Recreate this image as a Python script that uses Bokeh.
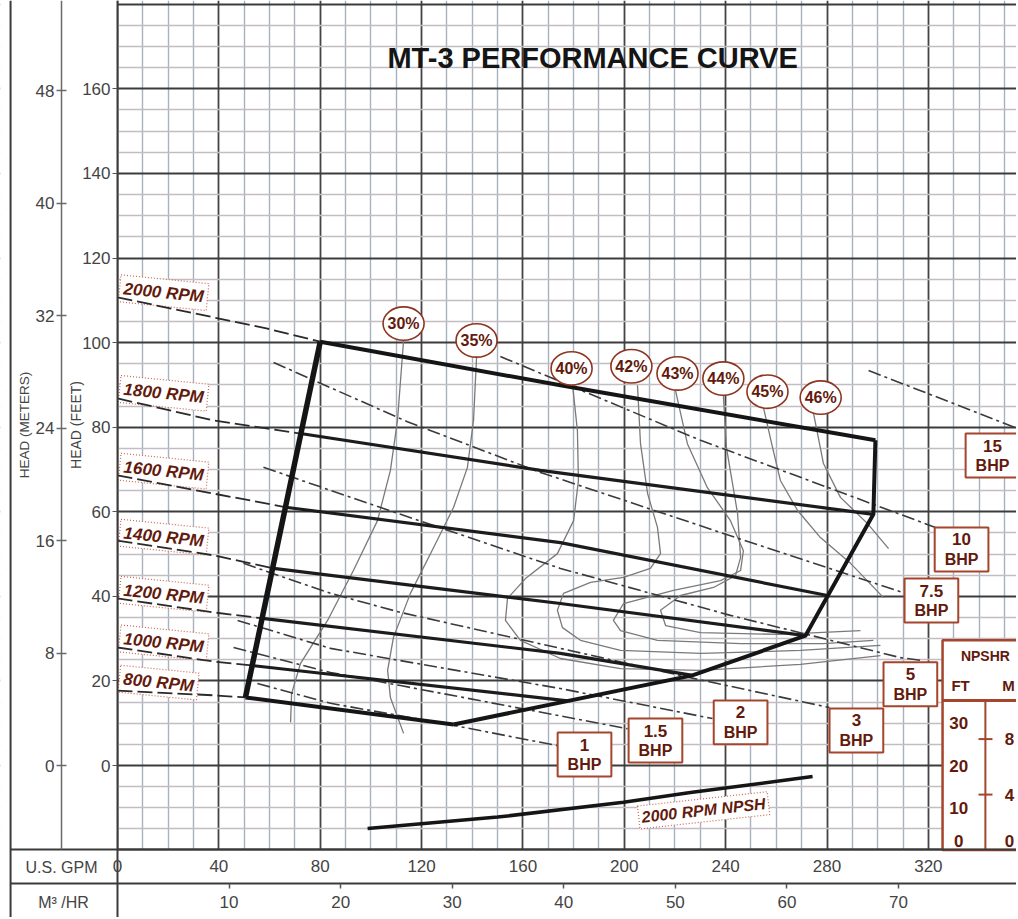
from bokeh.plotting import figure
from bokeh.models import Range1d, LinearAxis, FixedTicker
from bokeh.core.properties import value
from bokeh.embed import file_html
from bokeh.resources import INLINE

# ---------------- axis ticks ----------------
gpm_ticks = [0, 40, 80, 120, 160, 200, 240, 280, 320]
m3hr_ticks = [10, 20, 30, 40, 50, 60, 70]
feet_ticks = [0, 20, 40, 60, 80, 100, 120, 140, 160]
meter_ticks = [0, 8, 16, 24, 32, 40, 48]
npsh_ft_ticks = ["30", "20", "10", "0"]
npsh_ft_pos = [30, 20, 10, 2.2]
npsh_m_ticks = ["8", "4", "0"]
npsh_m_pos = [8, 4, 0.67]
npsh_m_marks = [8, 4]

GPM_PER_M3HR = 4.40287
FT_PER_M_DRAWN = 3.325   # metre scale as printed on the sheet

# ---------------- RPM curves (GPM, ft) ----------------
rpm_labels = ["2000 RPM", "1800 RPM", "1600 RPM", "1400 RPM", "1200 RPM", "1000 RPM", "800 RPM"]
rpm_label_gpm = [18.2, 18.2, 18.2, 18.2, 18.2, 18.2, 16.2]
rpm_label_ft = [111.8, 88.0, 69.6, 54.0, 40.5, 29.0, 19.6]

rpm2000_dash_gpm = [0.0, 59.2, 80.0]
rpm2000_dash_ft = [110.7, 103.3, 100.2]
rpm1800_dash_gpm = [0.0, 37.9, 72.2]
rpm1800_dash_ft = [86.8, 81.6, 78.5]
rpm1600_dash_gpm = [0.0, 37.9, 67.1]
rpm1600_dash_ft = [68.6, 64.3, 61.0]
rpm1400_dash_gpm = [0.0, 37.9, 61.6]
rpm1400_dash_ft = [53.2, 49.7, 46.6]
rpm1200_dash_gpm = [0.0, 37.9, 57.2]
rpm1200_dash_ft = [39.5, 36.2, 34.8]
rpm1000_dash_gpm = [0.0, 37.9, 53.7]
rpm1000_dash_ft = [27.9, 24.6, 23.6]
rpm800_dash_gpm = [0.0, 37.9, 50.5]
rpm800_dash_ft = [17.7, 16.6, 16.1]

rpm2000_gpm = [80.0, 174.8, 299.1]
rpm2000_ft = [100.2, 89.9, 76.9]
rpm1800_gpm = [72.2, 166.9, 298.3]
rpm1800_ft = [78.5, 69.8, 59.4]
rpm1600_gpm = [67.1, 174.8, 280.2]
rpm1600_ft = [61.0, 52.7, 40.2]
rpm1400_gpm = [61.6, 174.8, 271.5]
rpm1400_ft = [46.6, 38.3, 30.7]
rpm1200_gpm = [57.2, 174.8, 226.9]
rpm1200_ft = [34.8, 26.5, 21.3]
rpm1000_gpm = [53.7, 177.6]
rpm1000_ft = [23.6, 15.3]
rpm800_gpm = [50.5, 132.6]
rpm800_ft = [16.1, 9.7]

# envelope edges
env_left_gpm = [50.5, 80.0]
env_left_ft = [16.1, 100.2]
env_right_gpm = [299.1, 298.3, 271.5, 226.9, 132.6]
env_right_ft = [76.9, 59.4, 30.7, 21.3, 9.7]

# ---------------- efficiency curves ----------------
eff_labels = ["30%", "35%", "40%", "42%", "43%", "44%", "45%", "46%"]
eff_label_gpm = [112.9, 141.7, 179.2, 202.8, 221.0, 239.1, 256.5, 277.5]
eff_label_ft = [104.5, 100.5, 93.9, 94.4, 92.7, 91.5, 88.4, 87.0]

eff30_gpm = [112.9, 110.5, 107.7, 102.6, 93.1, 82.9, 72.2, 68.7, 68.3]
eff30_ft = [100.5, 81.6, 69.8, 57.9, 46.1, 34.3, 24.1, 17.0, 10.2]
eff35_gpm = [141.7, 140.5, 138.1, 132.6, 124.7, 115.6, 108.9, 106.6, 107.7, 112.9]
eff35_ft = [96.5, 81.6, 70.5, 61.0, 51.5, 40.7, 30.3, 22.5, 16.1, 7.6]
eff40_gpm = [179.6, 181.5, 181.9, 180.0, 173.6, 161.0, 153.9, 153.1, 159.0, 174.8, 198.5, 230.1, 269.5, 301.1]
eff40_ft = [89.9, 79.2, 67.4, 57.9, 50.1, 44.2, 39.5, 34.3, 29.6, 25.3, 22.9, 22.5, 23.9, 26.0]
eff42_gpm = [205.2, 206.4, 209.2, 213.1, 214.3, 210.3, 199.7, 186.7, 176.0, 173.6, 175.6, 182.7, 198.5, 230.1, 269.5, 301.1]
eff42_ft = [89.9, 76.1, 64.3, 56.3, 50.1, 46.6, 44.5, 43.3, 40.7, 36.7, 32.6, 29.6, 27.2, 26.5, 27.2, 28.4]
eff43_gpm = [220.2, 224.9, 232.8, 241.9, 247.0, 245.9, 238.0, 219.4, 199.7, 195.7, 198.5, 213.1, 245.9, 278.6, 298.3]
eff43_ft = [88.7, 76.1, 65.7, 57.9, 50.8, 46.1, 43.7, 41.4, 38.3, 34.3, 31.9, 29.6, 28.8, 28.8, 29.6]
eff44_gpm = [239.1, 240.3, 244.7, 245.9, 243.9, 235.2, 222.2, 214.3, 216.3, 230.1, 261.6, 293.2]
eff44_ft = [87.5, 75.2, 59.6, 49.2, 44.9, 42.1, 40.2, 36.7, 33.1, 31.4, 31.0, 31.9]
eff45_gpm = [254.9, 258.5, 261.6, 268.4, 277.4, 289.3, 302.3]
eff45_ft = [84.7, 75.2, 67.4, 60.3, 53.9, 47.8, 39.7]
eff46_gpm = [274.7, 278.6, 285.3, 296.0, 304.3]
eff46_ft = [83.2, 71.4, 63.4, 57.2, 51.3]

# ---------------- BHP lines ----------------
bhp_labels = ["1", "1.5", "2", "3", "5", "7.5", "10", "15"]
bhp_box_gpm = [184.3, 212.3, 245.9, 291.6, 312.9, 321.2, 333.1, 345.3]
bhp_box_ft = [2.6, 5.9, 10.2, 8.3, 19.2, 39.0, 51.1, 73.3]

bhp1_gpm = [55.2, 84.1, 132.6, 173.6]
bhp1_ft = [19.4, 14.7, 9.5, 4.7]
bhp1_5_gpm = [45.8, 84.1, 111.7, 201.3]
bhp1_5_ft = [27.9, 22.0, 18.9, 8.7]
bhp2_gpm = [47.4, 84.1, 111.7, 174.8, 234.8]
bhp2_ft = [34.3, 27.7, 24.8, 18.2, 11.1]
bhp3_gpm = [49.7, 84.1, 111.7, 174.8, 227.3, 281.0]
bhp3_ft = [47.8, 40.7, 36.2, 27.7, 20.6, 13.7]
bhp5_gpm = [57.6, 111.7, 174.8, 241.9, 309.0, 318.1]
bhp5_ft = [70.5, 59.4, 46.6, 35.5, 25.5, 24.8]
bhp7_5_gpm = [61.6, 114.4, 166.9, 238.0, 311.0]
bhp7_5_ft = [95.3, 81.3, 69.3, 55.1, 40.7]
bhp10_gpm = [151.1, 230.1, 322.8]
bhp10_ft = [96.7, 76.9, 56.3]
bhp15_gpm = [296.4, 355.2]
bhp15_ft = [93.4, 79.7]

# ---------------- NPSH (2000 RPM) ----------------
npsh_gpm = [98.7, 150.0, 199.7, 226.1, 274.3]
npsh_ft = [5.1, 7.8, 11.3, 13.6, 17.4]

# ---------------- figure ----------------
X0, X1 = -46.17, 354.78        # GPM at the canvas edges
Y0, Y1 = -35.94, 180.89        # head (ft) at the canvas edges
CH_X0 = 0.0                    # chart area starts at 0 GPM
CH_Y0 = -19.86                 # chart area bottom (ft)
ROW2_Y = -27.9                 # line between GPM and M3/HR rows
GUTTER_X = -42.2               # outer left rule
MET_X = -22.1                  # metre axis position (GPM units)

SANS = "Liberation Sans"
RED_TXT = "#621a0c"
RED_LN = "#a4452c"
GRID_DARK = "#3c3c3c"

p = figure(width=1016, height=917, x_range=Range1d(X0, X1), y_range=Range1d(Y0, Y1),
           output_backend="svg", toolbar_location=None,
           min_border_left=0, min_border_right=0, min_border_top=0, min_border_bottom=0)
p.background_fill_color = "white"
p.border_fill_color = "white"
p.outline_line_color = None

p.extra_y_ranges = {"m": Range1d(Y0 / FT_PER_M_DRAWN, Y1 / FT_PER_M_DRAWN),
                    "npsh": Range1d(Y0 + 20, Y1 + 20),
                    "npsh_m": Range1d((Y0 + 20) / 3.28084, (Y1 + 20) / 3.28084)}
p.extra_x_ranges = {"m3": Range1d(X0 / GPM_PER_M3HR, X1 / GPM_PER_M3HR)}

gpm_minor = [v for v in range(0, 360, 10) if v % 40]
feet_minor = [v for v in range(-20, 181, 5) if v % 20]

# grids
p.xgrid.ticker = FixedTicker(ticks=gpm_ticks, minor_ticks=gpm_minor)
p.ygrid.ticker = FixedTicker(ticks=feet_ticks + [180], minor_ticks=feet_minor)
p.xgrid.bounds = (0, 360)
p.ygrid.bounds = (-20, 185)
p.xgrid.grid_line_color = "#444444"
p.xgrid.grid_line_width = 1.8
p.xgrid.minor_grid_line_color = "#a7b2be"
p.xgrid.minor_grid_line_width = 1.4
p.ygrid.grid_line_color = GRID_DARK
p.ygrid.grid_line_width = 1.8
p.ygrid.minor_grid_line_color = "#c2bcc3"
p.ygrid.minor_grid_line_width = 1.4

# white gutter and bottom rows (cover the grid outside the chart area)
p.quad(left=[X0 - 10, CH_X0], right=[CH_X0, X1 + 10], bottom=[Y0 - 10, Y0 - 10],
       top=[Y1 + 10, CH_Y0], fill_color="white", line_color=None)

# table rules
p.segment(x0=[GUTTER_X, GUTTER_X, GUTTER_X, CH_X0], y0=[Y0, CH_Y0, ROW2_Y, Y0],
          x1=[GUTTER_X, X1, X1, CH_X0], y1=[Y1, CH_Y0, ROW2_Y, CH_Y0],
          line_color="#3a3a3a", line_width=2)
p.text(x=[-22.1, -21.3], y=[-24.0, -32.3], text=["U.S. GPM", "M³ /HR"],
       text_font=value(SANS), text_font_size="16px", text_color="#444444",
       text_align="center", text_baseline="middle")

# x axis (GPM), fixed at chart bottom
xa = p.xaxis[0]
xa.fixed_location = CH_Y0
xa.bounds = (CH_X0, X1)
xa.ticker = FixedTicker(ticks=gpm_ticks, minor_ticks=[])
xa.axis_line_color = "#3a3a3a"
xa.axis_line_width = 2
xa.major_tick_out = 0
xa.major_tick_in = 0
xa.minor_tick_out = 0
xa.minor_tick_in = 0
xa.major_label_standoff = 11
xa.major_label_text_font = SANS
xa.major_label_text_font_size = "17px"
xa.major_label_text_color = "#444444"

# M3/HR axis
qa = LinearAxis(x_range_name="m3", ticker=FixedTicker(ticks=m3hr_ticks, minor_ticks=[]),
                fixed_location=ROW2_Y, bounds=(0, X1 / GPM_PER_M3HR))
qa.axis_line_color = None
qa.major_tick_out = 5
qa.major_tick_in = 0
qa.major_tick_line_color = "#555555"
qa.major_tick_line_width = 1.5
qa.minor_tick_out = 0
qa.minor_tick_in = 0
qa.major_label_standoff = 8
qa.major_label_text_font = SANS
qa.major_label_text_font_size = "17px"
qa.major_label_text_color = "#444444"
p.add_layout(qa, "below")

# feet axis fixed at 0 GPM
ya = p.yaxis[0]
ya.fixed_location = CH_X0
ya.bounds = (CH_Y0, Y1)
ya.ticker = FixedTicker(ticks=feet_ticks, minor_ticks=[])
ya.axis_line_color = "#3a3a3a"
ya.axis_line_width = 2
ya.major_tick_out = 5
ya.major_tick_in = 0
ya.major_tick_line_color = "#555555"
ya.minor_tick_out = 0
ya.minor_tick_in = 0
ya.major_label_standoff = 2
ya.major_label_text_font = SANS
ya.major_label_text_font_size = "17px"
ya.major_label_text_color = "#444444"
ya.axis_label = "HEAD (FEET)"
ya.axis_label_text_font = SANS
ya.axis_label_text_font_size = "14px"
ya.axis_label_text_font_style = "normal"
ya.axis_label_text_color = "#444444"
ya.axis_label_standoff = -5

# metres axis
ma = LinearAxis(y_range_name="m", ticker=FixedTicker(ticks=meter_ticks, minor_ticks=[]),
                axis_label="HEAD (METERS)", fixed_location=MET_X,
                bounds=(CH_Y0 / FT_PER_M_DRAWN, Y1 / FT_PER_M_DRAWN))
ma.axis_line_color = "#6a6a6a"
ma.axis_line_width = 1.5
ma.major_tick_out = 5
ma.major_tick_in = 5
ma.major_tick_line_color = "#6a6a6a"
ma.major_tick_line_width = 1.5
ma.minor_tick_out = 0
ma.minor_tick_in = 0
ma.major_label_standoff = 2
ma.major_label_text_font = SANS
ma.major_label_text_font_size = "17px"
ma.major_label_text_color = "#444444"
ma.axis_label_text_font = SANS
ma.axis_label_text_font_size = "13.5px"
ma.axis_label_text_font_style = "normal"
ma.axis_label_text_color = "#444444"
ma.axis_label_standoff = 1
p.add_layout(ma, "left")

# RPM labels
p.text(x=rpm_label_gpm, y=rpm_label_ft, text=rpm_labels, angle=[-0.1] * len(rpm_labels),
       text_font=value(SANS), text_font_size="17px", text_font_style="bold italic",
       text_color=RED_TXT, text_align="center", text_baseline="middle",
       background_fill_color="white", border_line_color="#cc6650", border_line_dash="1 2",
       border_line_width=1.2, padding=4)

# efficiency curves
for gx, fy in [(eff30_gpm, eff30_ft), (eff35_gpm, eff35_ft), (eff40_gpm, eff40_ft),
               (eff42_gpm, eff42_ft), (eff43_gpm, eff43_ft), (eff44_gpm, eff44_ft),
               (eff45_gpm, eff45_ft), (eff46_gpm, eff46_ft)]:
    p.line(gx, fy, line_color="#7a7a7a", line_width=1.3, line_join="round")

# BHP dash-dot lines
for gx, fy in [(bhp1_gpm, bhp1_ft), (bhp1_5_gpm, bhp1_5_ft), (bhp2_gpm, bhp2_ft),
               (bhp3_gpm, bhp3_ft), (bhp5_gpm, bhp5_ft), (bhp7_5_gpm, bhp7_5_ft),
               (bhp10_gpm, bhp10_ft), (bhp15_gpm, bhp15_ft)]:
    p.line(gx, fy, line_color="#3a3a3a", line_width=1.6, line_dash="13 4 3 4")

# RPM dashed extensions
for gx, fy in [(rpm2000_dash_gpm, rpm2000_dash_ft), (rpm1800_dash_gpm, rpm1800_dash_ft),
               (rpm1600_dash_gpm, rpm1600_dash_ft), (rpm1400_dash_gpm, rpm1400_dash_ft),
               (rpm1200_dash_gpm, rpm1200_dash_ft), (rpm1000_dash_gpm, rpm1000_dash_ft),
               (rpm800_dash_gpm, rpm800_dash_ft)]:
    p.line(gx, fy, line_color="#2a2a2a", line_width=1.8, line_dash="15 5")

# RPM solid curves and envelope
for gx, fy in [(rpm1800_gpm, rpm1800_ft), (rpm1600_gpm, rpm1600_ft), (rpm1400_gpm, rpm1400_ft),
               (rpm1200_gpm, rpm1200_ft), (rpm1000_gpm, rpm1000_ft)]:
    p.line(gx, fy, line_color="#1c1c1c", line_width=3.2)
for gx, fy in [(rpm2000_gpm, rpm2000_ft), (rpm800_gpm, rpm800_ft), (env_right_gpm, env_right_ft)]:
    p.line(gx, fy, line_color="#151515", line_width=4, line_join="miter")
p.line(env_left_gpm, env_left_ft, line_color="#151515", line_width=5.5)

# efficiency ellipses
p.ellipse(x=eff_label_gpm, y=eff_label_ft, width=16.2, height=7.9, fill_color="white",
          line_color="#8e3520", line_width=1.6)
p.text(x=eff_label_gpm, y=eff_label_ft, text=eff_labels, text_font=value(SANS),
       text_font_size="16px", text_font_style="bold", text_color=RED_TXT,
       text_align="center", text_baseline="middle")

# BHP boxes
p.rect(x=bhp_box_gpm, y=bhp_box_ft, width=21.2, height=10.4, fill_color="white",
       line_color=RED_LN, line_width=2)
p.text(x=bhp_box_gpm, y=bhp_box_ft, text=bhp_labels, y_offset=-10, text_font=value(SANS),
       text_font_size="17px", text_font_style="bold", text_color=RED_TXT,
       text_align="center", text_baseline="middle")
p.text(x=bhp_box_gpm, y=bhp_box_ft, text=["BHP"] * len(bhp_labels), y_offset=10,
       text_font=value(SANS), text_font_size="16px", text_font_style="bold",
       text_color=RED_TXT, text_align="center", text_baseline="middle")

# NPSHR box
p.quad(left=[325.6], right=[370.0], bottom=[0.0], top=[49.6], y_range_name="npsh",
       fill_color="white", line_color=RED_LN, line_width=2.5)
p.segment(x0=[325.6], y0=[35.4], x1=[370.0], y1=[35.4], y_range_name="npsh",
          line_color=RED_LN, line_width=3)
p.segment(x0=[342.5], y0=[0.0], x1=[342.5], y1=[35.4], y_range_name="npsh",
          line_color=RED_LN, line_width=2)
p.segment(x0=[339.8] * len(npsh_m_marks), y0=npsh_m_marks, x1=[345.3] * len(npsh_m_marks),
          y1=npsh_m_marks, y_range_name="npsh_m", line_color=RED_LN, line_width=2)
p.text(x=[342.5], y=[45.8], text=["NPSHR"], y_range_name="npsh", text_font=value(SANS),
       text_font_size="14px", text_font_style="bold", text_color=RED_TXT,
       text_align="center", text_baseline="middle")
p.text(x=[332.7, 351.6], y=[38.9, 38.9], text=["FT", "M"], y_range_name="npsh",
       text_font=value(SANS), text_font_size="15px", text_font_style="bold",
       text_color=RED_TXT, text_align="center", text_baseline="middle")
p.text(x=[332.0] * len(npsh_ft_ticks), y=npsh_ft_pos, text=npsh_ft_ticks, y_range_name="npsh",
       text_font=value(SANS), text_font_size="17px", text_font_style="bold",
       text_color=RED_TXT, text_align="center", text_baseline="middle")
p.text(x=[352.0] * len(npsh_m_ticks), y=npsh_m_pos, text=npsh_m_ticks, y_range_name="npsh_m",
       text_font=value(SANS), text_font_size="17px", text_font_style="bold",
       text_color=RED_TXT, text_align="center", text_baseline="middle")

# NPSH curve
p.line(npsh_gpm, npsh_ft, y_range_name="npsh", line_color="#151515", line_width=3.5)
p.text(x=[231.3], y=[9.4], text=["2000 RPM NPSH"], y_range_name="npsh", angle=[0.11],
       text_font=value(SANS), text_font_size="16px", text_font_style="bold italic",
       text_color=RED_TXT, text_align="center", text_baseline="middle",
       background_fill_color="white", border_line_color="#cc6650", border_line_dash="1 2",
       border_line_width=1.2, padding=3)

# title
p.text(x=[187.5], y=[167.2], text=["MT-3 PERFORMANCE CURVE"], text_font=value(SANS),
       text_font_size="29px", text_font_style="bold", text_color="#151515",
       text_align="center", text_baseline="middle")

open("out.html", "w").write(file_html(p, INLINE))
